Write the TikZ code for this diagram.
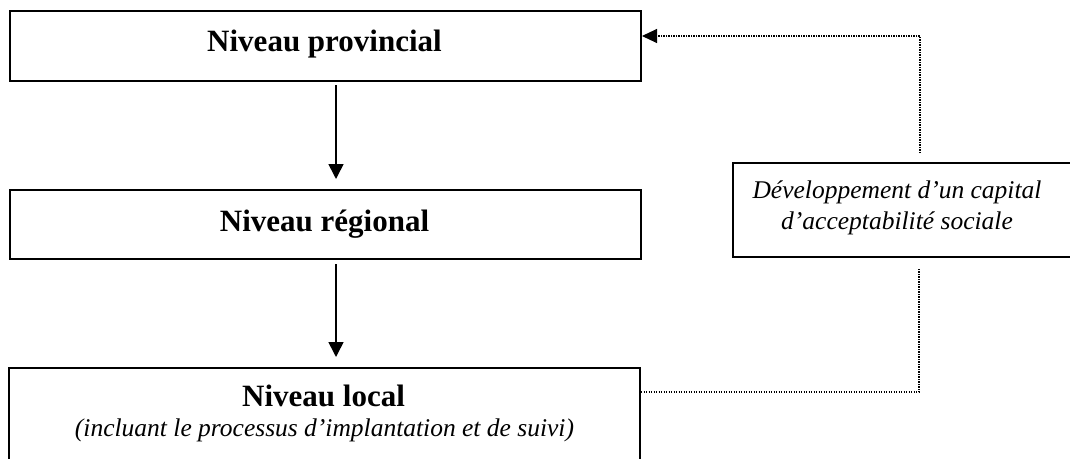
\documentclass[tikz,border=0pt]{standalone}
\usepackage{fontspec}
\setmainfont{Liberation Serif}
\usetikzlibrary{arrows.meta}
\begin{document}
\begin{tikzpicture}[x=1pt,y=-1pt,
  level/.style={draw, line width=2pt, minimum width=631pt, inner sep=0pt, anchor=north west},
  title/.style={font=\fontsize{31}{37}\selectfont\bfseries},
  note/.style={font=\fontsize{25.5}{30}\selectfont\itshape},
  flow/.style={line width=1.6pt, -{Triangle[length=15pt,width=15pt]}},
  loop/.style={line width=1.2pt, dash pattern=on 1.2pt off 1.3pt}]
\clip (0,0) rectangle (1070,458);
\fill[white] (0,0) rectangle (1070,458);

% the three levels
\node[level, minimum height=70pt] (prov) at (9,10) {};
\node[title, anchor=base] (provt) at (324.5,51) {Niveau provincial};

\node[level, minimum height=69pt] (reg) at (9,189) {};
\node[title, anchor=base] (regt) at (324.5,231) {Niveau régional};

\node[level, minimum height=120pt] (loc) at (8,367) {};
\node[title, anchor=base] (loct) at (323.5,406) {Niveau local};
\node[note, anchor=base] (locn) at (324.5,436) {(incluant le processus d’implantation et de suivi)};

% side box, running past the right edge
\node[draw, line width=2pt, minimum width=360pt, minimum height=94pt, anchor=north west, inner sep=0pt] (soc) at (732,162) {};
\node[note, anchor=base] (soc1) at (897,198) {Développement d’un capital};
\node[note, anchor=base] (soc2) at (897,229) {d’acceptabilité sociale};

% downward flow
\coordinate (a1) at (336,85);
\coordinate (a1e) at (336,179);
\coordinate (a2) at (336,264);
\coordinate (a2e) at (336,357);
\draw[flow] (a1) -- (a1e);
\draw[flow] (a2) -- (a2e);

% feedback loop
\coordinate (l0) at (641,392);
\coordinate (l1) at (919,392);
\coordinate (l2) at (919,268);
\coordinate (u1) at (920,153);
\coordinate (u2) at (920,36);
\coordinate (u3) at (656,36);
\draw[loop] (l0) -- (l1) -- (l2);
\draw[loop] (u1) -- (u2) -- (u3);
\draw[line width=1pt, -{Triangle[length=15pt,width=14pt]}] (u3) -- (prov.east |- u2);
\end{tikzpicture}
\end{document}
